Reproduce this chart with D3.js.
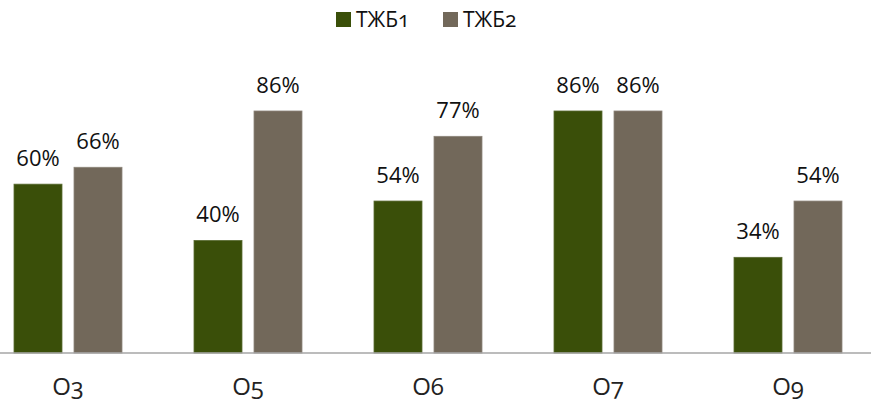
<!DOCTYPE html>
<html lang="ru">
<head>
<meta charset="UTF-8">
<script src="https://cdn.jsdelivr.net/npm/d3@7"></script>
<style>
  body { margin: 0; background: #fff; }
  svg { display: block; font-family: "Open Sans", sans-serif; }
  .onum { font-variant-numeric: oldstyle-nums; font-feature-settings: "onum" 1; }
</style>
</head>
<body>
<div id="chart"></div>
<script>
// data
var categories = ["O3", "O5", "O6", "O7", "O9"];
var seriesNames = ["ТЖБ1", "ТЖБ2"];
var tzb1 = [60, 40, 54, 86, 34];
var tzb2 = [66, 86, 77, 86, 54];
var colors = ["#3a4f09", "#72685a"];

var width = 871, height = 401;
var baseY = 353;

var svg = d3.select("#chart").append("svg")
    .attr("width", width)
    .attr("height", height);

var x = d3.scaleBand().domain(categories).range([-22, 878])
    .paddingInner(0.4).paddingOuter(0.2);
var x1 = d3.scaleBand().domain(seriesNames).range([0, x.bandwidth()]).paddingInner(0.2);
var y = d3.scaleLinear().domain([0, 100]).range([baseY, baseY - 281.4]);

var rows = categories.map(function(c, i) {
  return { cat: c, vals: [{ s: seriesNames[0], v: tzb1[i] }, { s: seriesNames[1], v: tzb2[i] }] };
});

// bars
var groups = svg.selectAll(".grp").data(rows).enter().append("g")
    .attr("class", "grp")
    .attr("transform", function(d) { return "translate(" + x(d.cat) + ",0)"; });

groups.selectAll("rect").data(function(d) { return d.vals; }).enter().append("rect")
    .attr("x", function(d) { return x1(d.s); })
    .attr("y", function(d) { return y(d.v); })
    .attr("width", x1.bandwidth())
    .attr("height", function(d) { return baseY - y(d.v); })
    .attr("fill", function(d, i) { return colors[i]; })
    .attr("stroke", function(d, i) { return i == 0 ? "#5a6b33" : "#8d857a"; })
    .attr("stroke-width", 0.8);

// data labels
groups.selectAll(".lbl").data(function(d) { return d.vals; }).enter().append("text")
    .attr("class", "lbl")
    .attr("x", function(d) { return x1(d.s) + x1.bandwidth() / 2; })
    .attr("y", function(d) { return y(d.v) - 18; })
    .attr("text-anchor", "middle")
    .attr("font-size", 22)
    .attr("fill", "#111")
    .text(function(d) { return d.v + "%"; });

// x axis
var xAxis = svg.append("g")
    .attr("transform", "translate(0," + baseY + ")")
    .call(d3.axisBottom(x).tickSize(0).tickPadding(25));
xAxis.select(".domain").remove();
xAxis.append("line")
    .attr("x1", 0).attr("x2", width)
    .attr("stroke", "#a6a6a6").attr("stroke-width", 1.5);
xAxis.selectAll(".tick text")
    .attr("class", "onum")
    .attr("font-family", "Open Sans")
    .attr("font-size", 24)
    .attr("fill", "#222");

// legend
var legend = svg.append("g").attr("transform", "translate(336,0)");
var item = legend.selectAll("g").data(seriesNames).enter().append("g")
    .attr("transform", function(d, i) { return "translate(" + (i * 107) + ",0)"; });
item.append("rect")
    .attr("y", 12).attr("width", 15).attr("height", 15)
    .attr("fill", function(d, i) { return colors[i]; });
item.append("text")
    .attr("class", "onum")
    .attr("x", 20).attr("y", 27)
    .attr("font-size", 21)
    .attr("fill", "#111")
    .text(function(d) { return d; });
</script>
</body>
</html>
